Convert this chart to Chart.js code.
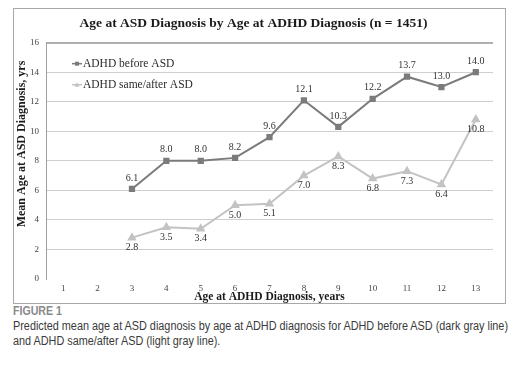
<!DOCTYPE html>
<html>
<head>
<meta charset="utf-8">
<script src="https://cdn.jsdelivr.net/npm/chart.js@4.4.1/dist/chart.umd.min.js"></script>
<style>
  html, body { margin: 0; padding: 0; background: #fff; }
  body { width: 521px; height: 371px; position: relative; overflow: hidden; }
  #frame { position: absolute; left: 13px; top: 8px; width: 491px; height: 294px; border: 1px solid #a8a8a8; }
  #frame canvas { display: block; }
  .cap { position: absolute; left: 13px; white-space: nowrap; transform-origin: 0 0; font-family: "Liberation Sans", "DejaVu Sans", sans-serif; }
  #figlabel { top: 304px; font-weight: bold; font-size: 13px; line-height: 14px; color: #8a8a8a; }
  #cap1 { top: 319px; font-size: 12px; line-height: 14px; color: #3a3a3a; }
  #cap2 { top: 334px; font-size: 12px; line-height: 14px; color: #3a3a3a; }
</style>
</head>
<body>
<div id="frame"><canvas id="c" width="491" height="294"></canvas></div>
<div class="cap" id="figlabel">FIGURE 1</div>
<div class="cap" id="cap1">Predicted mean age at ASD diagnosis by age at ADHD diagnosis for ADHD before ASD (dark gray line)</div>
<div class="cap" id="cap2">and ADHD same/after ASD (light gray line).</div>
<script>
const categories = ["1","2","3","4","5","6","7","8","9","10","11","12","13"];
const adhdBefore = [null, null, 6.1, 8.0, 8.0, 8.2, 9.6, 12.1, 10.3, 12.2, 13.7, 13.0, 14.0];
const adhdSameAfter = [null, null, 2.8, 3.5, 3.4, 5.0, 5.1, 7.0, 8.3, 6.8, 7.3, 6.4, 10.8];
const seriesNames = ["ADHD before ASD", "ADHD same/after ASD"];
const yTicks = [0, 2, 4, 6, 8, 10, 12, 14, 16];
const yTitle = "Mean Age at ASD Diagnosis, yrs";

// condense caption text horizontally to match the narrow typeface of the original
(function () {
  const c1 = document.getElementById("cap1"), c2 = document.getElementById("cap2"), f = document.getElementById("figlabel");
  const k = 495 / c1.getBoundingClientRect().width;
  c1.style.transform = "scaleX(" + k + ")";
  c2.style.transform = "scaleX(" + k + ")";
  const kf = 49 / f.getBoundingClientRect().width;
  f.style.transform = "scaleX(" + kf + ")";
})();

const DARK = "#7b7b7b";
const LIGHT = "#c3c3c3";
const SERIF = "'Liberation Serif', 'DejaVu Serif', serif";

const dataLabels = {
  id: "dataLabels",
  afterDatasetsDraw(chart) {
    const ctx = chart.ctx;
    ctx.save();
    ctx.font = "10px " + SERIF;
    ctx.fillStyle = "#333";
    ctx.textAlign = "center";
    ctx.textBaseline = "middle";
    chart.data.datasets.forEach((ds, di) => {
      const meta = chart.getDatasetMeta(di);
      meta.data.forEach((pt, i) => {
        const v = ds.data[i];
        if (v === null || v === undefined) return;
        const dy = di === 0 ? -11 : 10;
        ctx.fillText(v.toFixed(1), pt.x, pt.y + dy);
      });
    });
    ctx.restore();
  }
};

const innerLegend = {
  id: "innerLegend",
  afterDraw(chart) {
    const ctx = chart.ctx;
    const a = chart.chartArea;
    const x0 = a.left + 26, x1 = a.left + 36;
    const ys = [a.top + 21, a.top + 42];
    ctx.save();
    chart.data.datasets.forEach((ds, di) => {
      const y = ys[di];
      ctx.strokeStyle = ds.borderColor;
      ctx.lineWidth = 1.5;
      ctx.beginPath(); ctx.moveTo(x0, y); ctx.lineTo(x1, y); ctx.stroke();
      ctx.fillStyle = ds.borderColor;
      const mx = (x0 + x1) / 2;
      if (di === 0) {
        ctx.fillRect(mx - 2, y - 2, 4, 4);
      } else {
        ctx.beginPath(); ctx.moveTo(mx, y - 2.5); ctx.lineTo(mx + 2.5, y + 2); ctx.lineTo(mx - 2.5, y + 2); ctx.closePath(); ctx.fill();
      }
      ctx.fillStyle = "#2a2a2a";
      ctx.font = "11.5px " + SERIF;
      ctx.textAlign = "left";
      ctx.textBaseline = "middle";
      ctx.fillText(ds.label, x1 + 1, y);
    });
    // y-axis title (positioned slightly above the plot centre, as in the original)
    ctx.translate(8, 135);
    ctx.rotate(-Math.PI / 2);
    ctx.fillStyle = "#1a1a1a";
    ctx.font = "bold 12px " + SERIF;
    ctx.textAlign = "center";
    ctx.textBaseline = "middle";
    ctx.fillText(yTitle, 0, 0);
    ctx.restore();
  }
};

new Chart(document.getElementById("c"), {
  type: "line",
  data: {
    labels: categories,
    datasets: [
      { label: seriesNames[0], data: adhdBefore, borderColor: DARK, backgroundColor: DARK, borderWidth: 2,
        pointStyle: "rect", pointRadius: 3, pointHoverRadius: 3, tension: 0, spanGaps: false },
      { label: seriesNames[1], data: adhdSameAfter, borderColor: LIGHT, backgroundColor: LIGHT, borderWidth: 2,
        pointStyle: "triangle", pointRadius: 3.5, pointHoverRadius: 3.5, tension: 0, spanGaps: false }
    ]
  },
  options: {
    responsive: false,
    animation: false,
    events: [],
    layout: { padding: { left: 0, right: 12, top: 0, bottom: 0 } },
    plugins: {
      legend: { display: false },
      tooltip: { enabled: false },
      title: {
        display: true,
        text: "Age at ASD Diagnosis by Age at ADHD Diagnosis (n = 1451)",
        color: "#1a1a1a",
        font: { family: SERIF, size: 13.5, weight: "bold", lineHeight: 1.2 },
        padding: { top: 6.5, bottom: 11 }
      }
    },
    scales: {
      x: {
        type: "category",
        offset: true,
        grid: { display: false, drawTicks: false },
        border: { display: false },
        ticks: { color: "#444", font: { family: SERIF, size: 9 }, padding: 4, maxRotation: 0, autoSkip: false },
        title: { display: true, text: "Age at ADHD Diagnosis, years", color: "#1a1a1a",
          font: { family: SERIF, size: 11.5, weight: "bold", lineHeight: 1 }, padding: 0 },
        afterFit(s) { s.height = 24; }
      },
      y: {
        min: 0, max: 16,
        afterBuildTicks(s) { s.ticks = yTicks.map(v => ({ value: v })); },
        grid: {
          drawTicks: false,
          color: (c) => c.tick && c.tick.value === 0 ? "rgba(0,0,0,0)" : (c.tick && c.tick.value === 16 ? "#b0b0b0" : "#cfcfcf"),
          lineWidth: (c) => c.tick && c.tick.value === 16 ? 2 : 1
        },
        border: { display: true, color: "#a0a0a0", width: 1 },
        ticks: { color: "#444", font: { family: SERIF, size: 9 }, padding: 7 },
        title: { display: false },
        afterFit(s) { s.width = 32; }
      }
    }
  },
  plugins: [dataLabels, innerLegend]
});
</script>
</body>
</html>
